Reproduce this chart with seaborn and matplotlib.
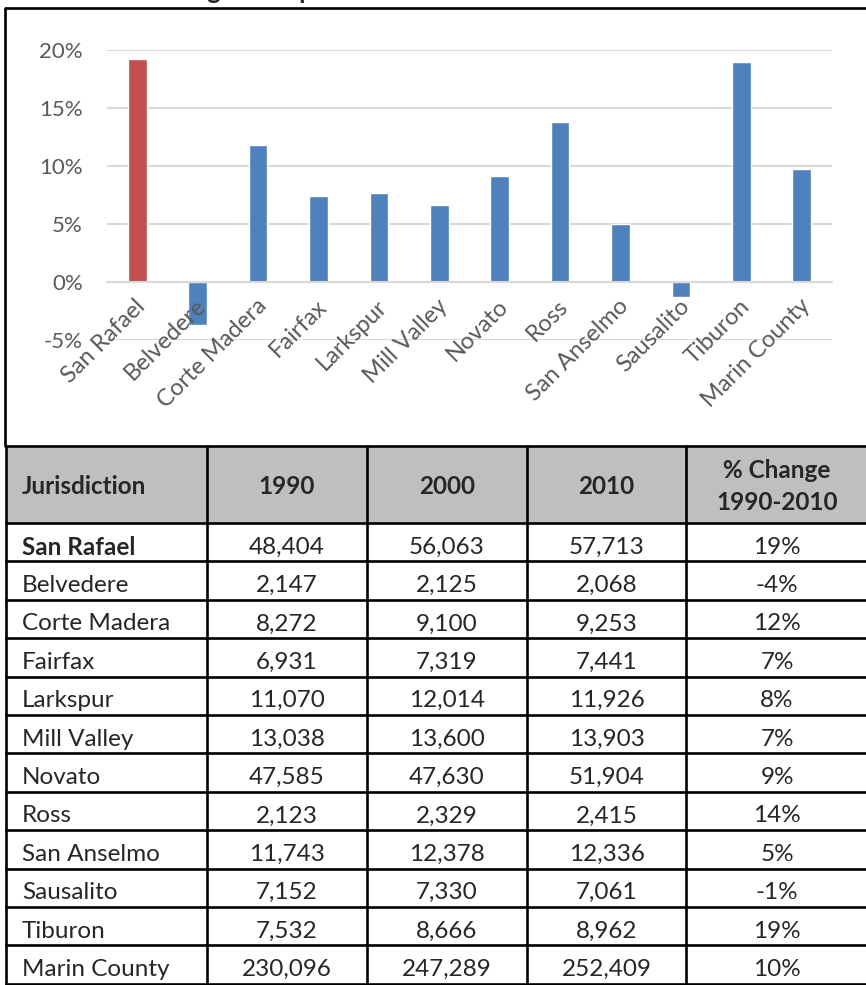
import matplotlib
matplotlib.use("Agg")
import matplotlib.pyplot as plt
import seaborn as sns
from matplotlib.patches import Rectangle
from matplotlib.ticker import PercentFormatter

jurisdictions = ["San Rafael", "Belvedere", "Corte Madera", "Fairfax", "Larkspur",
                 "Mill Valley", "Novato", "Ross", "San Anselmo", "Sausalito",
                 "Tiburon", "Marin County"]
pct_change = [0.192, -0.037, 0.118, 0.074, 0.077, 0.066, 0.091, 0.138, 0.050,
              -0.013, 0.190, 0.097]
pop_1990 = [48404, 2147, 8272, 6931, 11070, 13038, 47585, 2123, 11743, 7152, 7532, 230096]
pop_2000 = [56063, 2125, 9100, 7319, 12014, 13600, 47630, 2329, 12378, 7330, 8666, 247289]
pop_2010 = [57713, 2068, 9253, 7441, 11926, 13903, 51904, 2415, 12336, 7061, 8962, 252409]
pct_labels = ["19%", "-4%", "12%", "7%", "8%", "7%", "9%", "14%", "5%", "-1%", "19%", "10%"]
header = ["Jurisdiction", "1990", "2000", "2010", "% Change\n1990-2010"]
bar_colors = ["#c0504d"] + ["#4f81bd"] * 11

sns.set_theme(style="white")
plt.rcParams['font.family'] = ['Lato', 'DejaVu Sans']
plt.rcParams['axes.unicode_minus'] = False

W, H = 866, 985
fig = plt.figure(figsize=(W / 100, H / 100), dpi=100)

# overlay in pixel units for the frame and the table
ov = fig.add_axes([0, 0, 1, 1])
ov.set_xlim(0, W)
ov.set_ylim(H, 0)
ov.axis("off")

lw = 1.9
ov.plot([5, W], [8, 8], color="black", lw=lw, solid_capstyle="butt")
ov.plot([5, 5], [8, 446], color="black", lw=lw)

# title, mostly cut off by the top edge
fig.text(52 / W, 1.0 + 1 / H, "Percent Change in Population", fontsize=18.5,
         fontweight="bold", va="baseline", ha="left")

# bar chart
ax = fig.add_axes([107 / W, 1 - 340 / H, 725 / W, 290 / H])
sns.barplot(x=jurisdictions, y=pct_change, hue=jurisdictions, palette=bar_colors,
            legend=False, width=0.31, saturation=1, ax=ax)
ax.set_ylim(-0.05, 0.20)
ax.set_yticks([-0.05, 0, 0.05, 0.10, 0.15, 0.20])
ax.yaxis.set_major_formatter(PercentFormatter(1.0, decimals=0))
ax.yaxis.grid(True, color="#d9d9d9", lw=1.5)
ax.set_axisbelow(True)
for s in ["top", "right", "left"]:
    ax.spines[s].set_visible(False)
ax.spines["bottom"].set_position(("data", 0))
ax.spines["bottom"].set_color("#d9d9d9")
ax.spines["bottom"].set_linewidth(1.5)
ax.tick_params(axis="both", length=0, colors="#595959")
ax.tick_params(axis="y", pad=17.5, labelsize=16)
ax.set_xticks(range(len(jurisdictions)))
ax.set_xticklabels([])
for i, name in enumerate(jurisdictions):
    ax.annotate(name, (i, 0), xytext=(3.6, -15), textcoords="offset points",
                rotation=45, ha="right", va="center", rotation_mode="anchor",
                fontsize=17, color="#595959")
ax.set_xlabel(None)
ax.set_ylabel(None)
ax.patch.set_alpha(0)

# table
col_x = [6, 207, 367, 527, 686, W + 2]
head_top, head_bot = 446, 523
row_h = 38.4
n = len(jurisdictions)
fs = 17.5

ov.add_patch(Rectangle((col_x[0], head_top), W - col_x[0], head_bot - head_top,
                       facecolor="#bfbfbf", edgecolor="none"))
bottom = head_bot + n * row_h
for y in [head_top, head_bot] + [head_bot + (i + 1) * row_h for i in range(n)]:
    ov.plot([col_x[0] - 1, W], [y, y], color="black", lw=lw, solid_capstyle="butt")
for x in col_x[:-1]:
    ov.plot([x, x], [head_top, bottom], color="black", lw=lw)

centers = [(col_x[i] + col_x[i + 1]) / 2 for i in range(1, 5)]
hy = (head_top + head_bot) / 2
ov.text(22, hy + 2, header[0], fontsize=fs, fontweight="bold", va="center", ha="left")
for c, h in zip(centers, header[1:]):
    ov.text(c, hy + 2, h, fontsize=fs, fontweight="bold", va="center", ha="center",
            linespacing=1.45)

for i, name in enumerate(jurisdictions):
    yc = head_bot + i * row_h + row_h / 2 + 3
    ov.text(22, yc, name, fontsize=fs, va="center_baseline", ha="left",
            fontweight="bold" if i == 0 else "normal")
    vals = [f"{pop_1990[i]:,}", f"{pop_2000[i]:,}", f"{pop_2010[i]:,}", pct_labels[i]]
    for c, v in zip(centers, vals):
        ov.text(c, yc, v, fontsize=fs, va="center_baseline", ha="center")

fig.savefig("out.png", dpi=100)
